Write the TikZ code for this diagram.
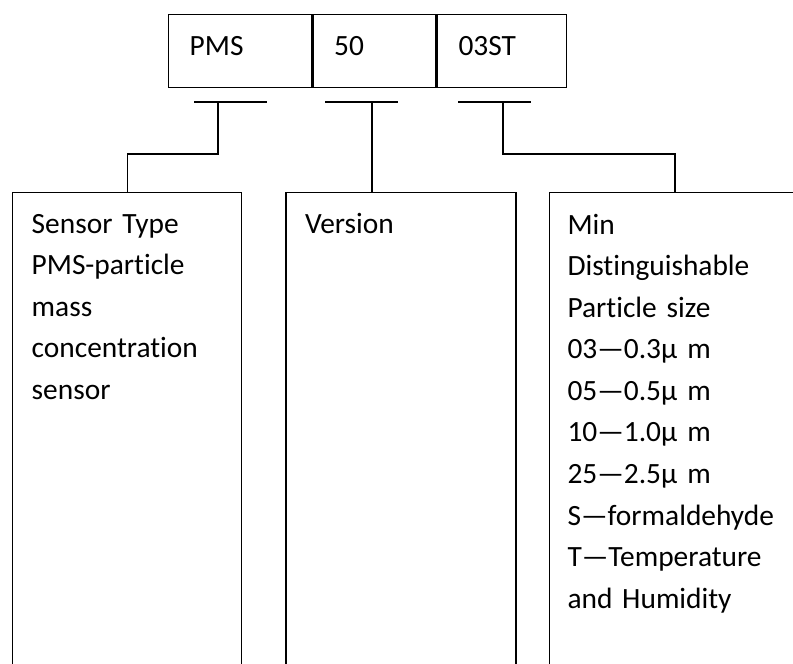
\documentclass[tikz,border=0pt]{standalone}
\usepackage{fontspec}
\setmainfont{Carlito}[Ligatures=NoCommon]
\usetikzlibrary{positioning}

\begin{document}
\begin{tikzpicture}[x=0.5pt,y=-0.5pt,line width=0.7pt,
  every node/.style={font=\fontsize{14.7pt}{20.8pt}\selectfont},
  cell/.style={draw,minimum height=36.5pt,inner xsep=10.5pt,inner ysep=0pt,text height=9pt,text depth=4.5pt,align=left},
  sbox/.style={draw,minimum height=260pt},
  note/.style={anchor=base west,inner sep=0pt,align=left,text width=150pt}]
  \clip (0,0) rectangle (793,664);
  %model code
  \node[cell,anchor=north west,text width=50.5pt] (pms) at (168,14) {PMS};
  \node[cell,right=0pt of pms,text width=40.5pt] (ver) {50};
  \node[cell,right=0pt of ver,text width=43.5pt] (code) {03ST};

  %brackets
  \coordinate (s1) at (218,102);
  \coordinate (s2) at (372,102);
  \coordinate (s3) at (503,102);
  \coordinate (k3) at (675,154);
  \draw (194,102) -- (267,102);
  \draw (325,102) -- (398,102);
  \draw (458,102) -- (531,102);

  %boxes
  \node[sbox,anchor=north west,minimum width=114.5pt] (typebox) at (12,192) {};
  \node[sbox,right=21.5pt of typebox,minimum width=115pt] (verbox) {};
  \node[sbox,right=16pt of verbox,minimum width=160pt] (sizebox) {};
  \node[note] (typetext) at ([shift={(19,41)}]typebox.north west)
    {Sensor Type\\PMS-particle\\mass\\concentration\\sensor};
  \node[note] (vertext) at ([shift={(19,41)}]verbox.north west) {Version};
  \node[note] (sizetext) at ([shift={(18,42)}]sizebox.north west)
    {Min\\Distinguishable\\Particle size\\03—0.3µ\hspace{5pt}m\\05—0.5µ\hspace{5pt}m\\10—1.0µ\hspace{5pt}m\\25—2.5µ\hspace{5pt}m\\S—formaldehyde\\T—Temperature\\and Humidity};

  %connectors
  \draw (s1) -- ++(0,52) -| (typebox.north);
  \draw (s2) -- (s2 |- verbox.north);
  \draw (s3) |- (k3) -- (k3 |- sizebox.north);
\end{tikzpicture}
\end{document}
